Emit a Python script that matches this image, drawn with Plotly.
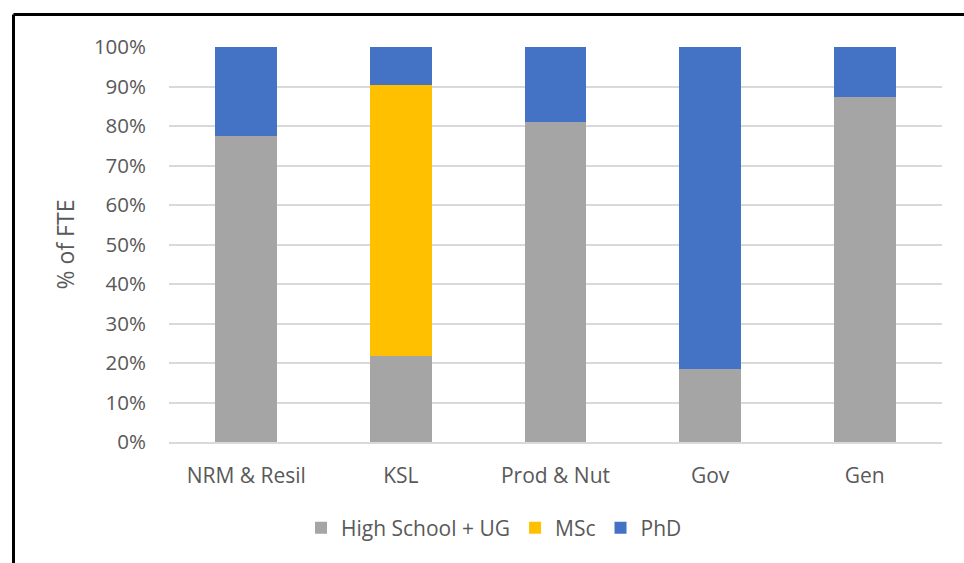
import plotly.graph_objects as go

# Share of FTE by education level for each programme area
categories = ["NRM & Resil", "KSL", "Prod & Nut", "Gov", "Gen"]
high_school_ug = [77.5, 21.8, 81.1, 18.5, 87.4]
msc = [0.0, 68.6, 0.0, 0.0, 0.0]
phd = [22.5, 9.6, 18.9, 81.5, 12.6]
y_ticks = [0, 10, 20, 30, 40, 50, 60, 70, 80, 90, 100]
y_tick_labels = [f"{v}%" for v in y_ticks]

series = [
    ("High School + UG", high_school_ug, "#A5A5A5"),
    ("MSc", msc, "#FFC000"),
    ("PhD", phd, "#4472C4"),
]

font_family = "Open Sans, Liberation Sans, sans-serif"
text_color = "#595959"

fig = go.Figure()
for name, values, color in series:
    fig.add_trace(go.Bar(
        x=categories,
        y=values,
        name=name,
        marker=dict(color=color, line=dict(width=0)),
    ))

# plot area spans px 169..942 horizontally and 47..442 vertically
L, R, T, B = 169, 942, 47, 442
def px_x(p):
    return (p - L) / (R - L)
def px_y(p):
    return (B - p) / (B - T)

frame_x0, frame_y0 = px_x(13.5), px_y(14.5)
frame_x1, frame_y1 = px_x(990), px_y(600)

fig.update_layout(
    width=964,
    height=563,
    barmode="stack",
    bargap=0.6,
    plot_bgcolor="white",
    paper_bgcolor="white",
    margin=dict(l=L, r=964 - R, t=T, b=563 - B),
    font=dict(family=font_family, color=text_color, size=20),
    showlegend=True,
    legend=dict(
        orientation="h",
        x=px_x(494),
        xanchor="center",
        y=px_y(528),
        yanchor="middle",
        font=dict(size=21, color=text_color),
        itemwidth=30,
        traceorder="normal",
    ),
    xaxis=dict(
        type="category",
        range=[-0.5, 4.5],
        showgrid=False,
        showline=True,
        linecolor="#D9D9D9",
        linewidth=1.5,
        ticks="",
        ticklabelstandoff=14,
        tickfont=dict(size=21, color=text_color),
        fixedrange=True,
    ),
    yaxis=dict(
        range=[0, 100],
        tickvals=y_ticks,
        ticktext=y_tick_labels,
        showgrid=True,
        gridcolor="#D9D9D9",
        gridwidth=1.5,
        zeroline=False,
        showline=False,
        ticks="",
        ticklabelstandoff=22,
        tickfont=dict(size=20.5, color=text_color),
        title=dict(text="% of FTE", font=dict(size=23, color=text_color), standoff=12),
        fixedrange=True,
    ),
    shapes=[
        dict(type="line", xref="paper", yref="paper",
             x0=frame_x0, x1=frame_x0, y0=frame_y0, y1=frame_y1,
             line=dict(color="black", width=3)),
        dict(type="line", xref="paper", yref="paper",
             x0=frame_x0, x1=frame_x1, y0=frame_y0, y1=frame_y0,
             line=dict(color="black", width=3)),
    ],
)

fig.write_html("out.html")
